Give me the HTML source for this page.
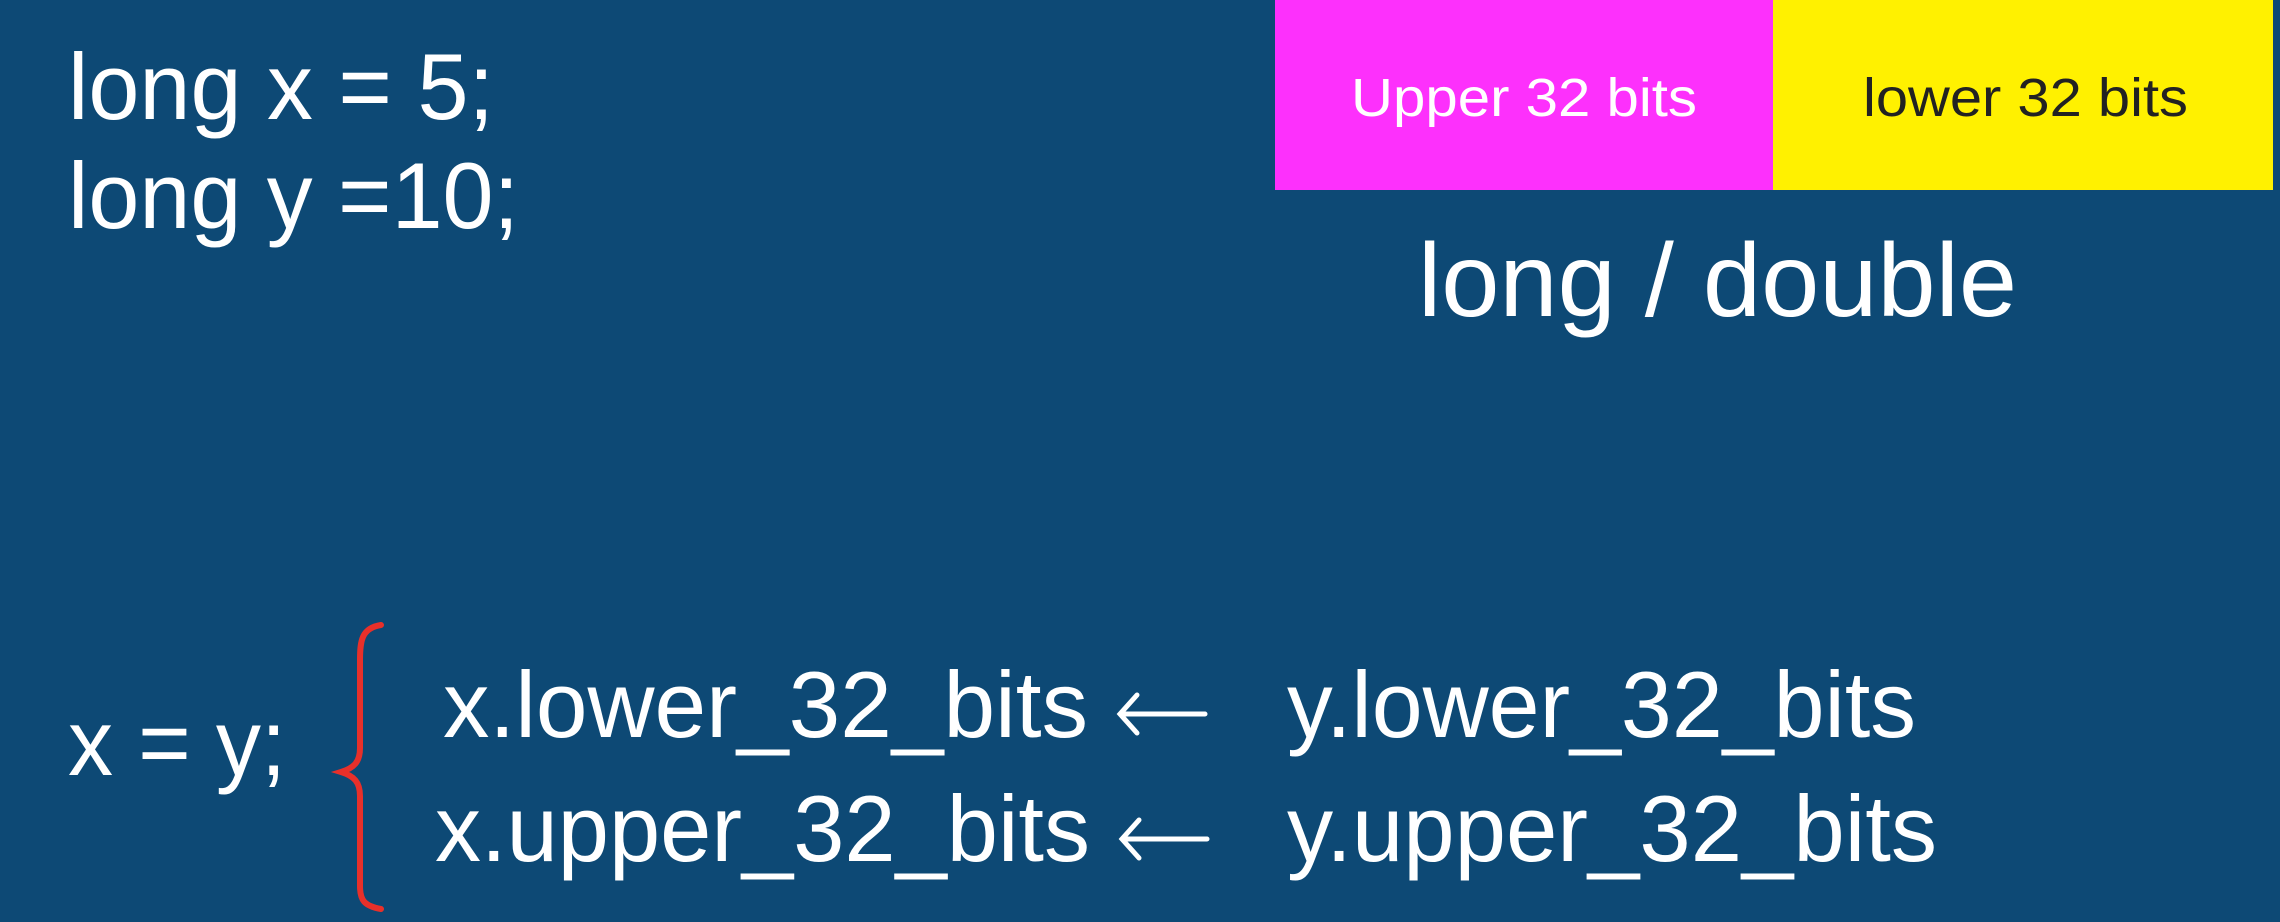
<!DOCTYPE html>
<html><head><meta charset="utf-8"><style>
html,body{margin:0;padding:0;background:#0d4975;}
svg{display:block}
text{font-family:"Liberation Sans",Arial,sans-serif;fill:#fff}
</style></head><body>
<svg width="2280" height="922" viewBox="0 0 2280 922" xmlns="http://www.w3.org/2000/svg">
<rect width="2280" height="922" fill="#0d4975"/>
<rect x="1275" y="0" width="498" height="190" fill="#fd30fc"/>
<rect x="1773" y="0" width="500" height="190" fill="#fff100"/>
<text x="1351" y="116" font-size="54" textLength="346" lengthAdjust="spacingAndGlyphs">Upper 32 bits</text>
<text x="1863" y="116" font-size="54" textLength="325" lengthAdjust="spacingAndGlyphs" style="fill:#222">lower 32 bits</text>
<text x="1418" y="316" font-size="104" textLength="599" lengthAdjust="spacingAndGlyphs">long / double</text>
<text x="68" y="119" font-size="94" textLength="426" lengthAdjust="spacingAndGlyphs">long x = 5;</text>
<text x="68" y="228" font-size="94" textLength="451" lengthAdjust="spacingAndGlyphs">long y =10;</text>
<text x="68" y="775" font-size="94" textLength="218" lengthAdjust="spacingAndGlyphs">x = y;</text>
<path d="M381,625 C362,628 360,640 360,660 L360,748 C360,762 354,768 341,772 C354,776 360,782 360,796 L360,886 C360,900 364,906 381,909" fill="none" stroke="#e8302a" stroke-width="6" stroke-linecap="round"/>
<text x="443" y="737" font-size="94" textLength="645" lengthAdjust="spacingAndGlyphs">x.lower_32_bits</text>
<text x="435" y="861" font-size="94" textLength="655" lengthAdjust="spacingAndGlyphs">x.upper_32_bits</text>
<g fill="none" stroke="#fff" stroke-width="5" stroke-linecap="round">
<path d="M1120,714 L1205,714 M1137,695 L1120,714 L1137,733"/>
<path d="M1122,839 L1207,839 M1139,820 L1122,839 L1139,858"/>
</g>
<text x="1287" y="737" font-size="94" textLength="629" lengthAdjust="spacingAndGlyphs">y.lower_32_bits</text>
<text x="1287" y="861" font-size="94" textLength="650" lengthAdjust="spacingAndGlyphs">y.upper_32_bits</text>
</svg>
</body></html>
